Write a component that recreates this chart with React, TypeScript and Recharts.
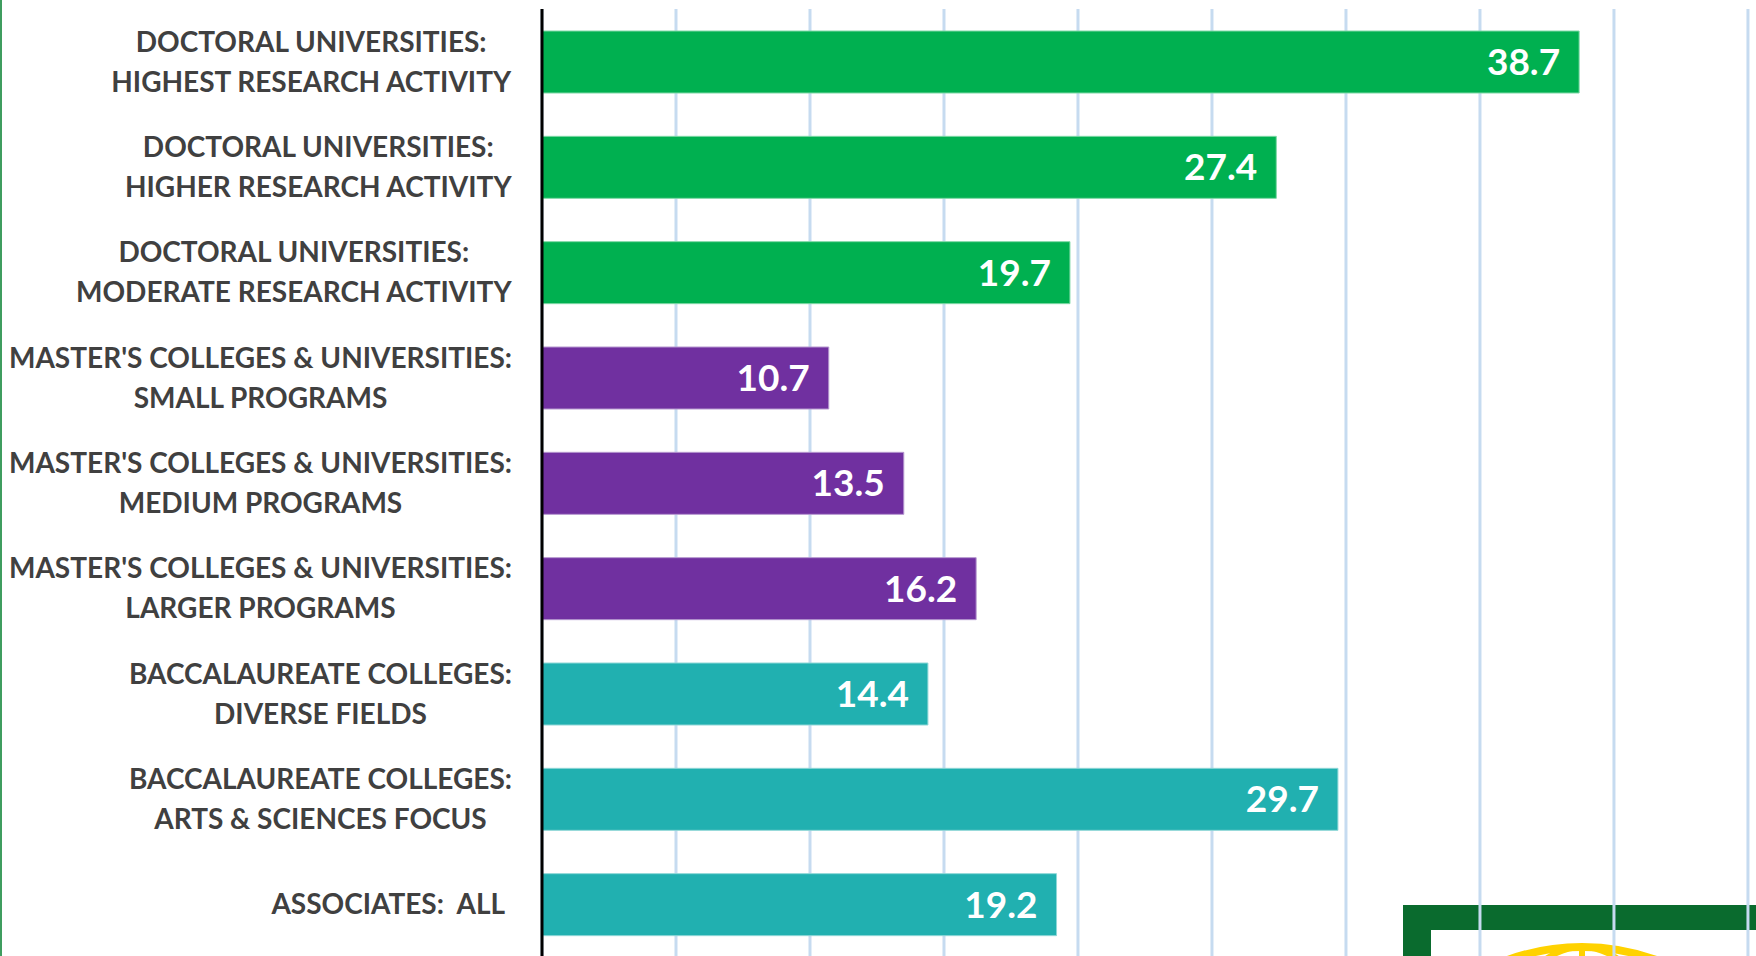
import { BarChart, Bar, XAxis, YAxis, CartesianGrid, Cell, LabelList } from 'recharts'

const categories = [
  'DOCTORAL UNIVERSITIES:\nHIGHEST RESEARCH ACTIVITY',
  'DOCTORAL UNIVERSITIES:\nHIGHER RESEARCH ACTIVITY',
  'DOCTORAL UNIVERSITIES:\nMODERATE RESEARCH ACTIVITY',
  "MASTER'S COLLEGES & UNIVERSITIES:\nSMALL PROGRAMS",
  "MASTER'S COLLEGES & UNIVERSITIES:\nMEDIUM PROGRAMS",
  "MASTER'S COLLEGES & UNIVERSITIES:\nLARGER PROGRAMS",
  'BACCALAUREATE COLLEGES:\nDIVERSE FIELDS',
  'BACCALAUREATE COLLEGES:\nARTS & SCIENCES FOCUS',
  'ASSOCIATES:  ALL ',
]

const values = [38.7, 27.4, 19.7, 10.7, 13.5, 16.2, 14.4, 29.7, 19.2]

// sector group for each row, used for the bar colour
const groups = ['doc', 'doc', 'doc', 'mas', 'mas', 'mas', 'bac', 'bac', 'bac']

const xTicks = [0, 5, 10, 15, 20, 25, 30, 35, 40, 45]
const X_MAX = 45.3

const groupColors: Record<string, string> = {
  doc: '#00b050',
  mas: '#7030a0',
  bac: '#21b0b0',
}
const groupEdges: Record<string, string> = {
  doc: '#7fd8a6',
  mas: '#b597cf',
  bac: '#8fd7d7',
}

const data = categories.map((name, i) => ({ name, value: values[i], group: groups[i] }))

const LABEL_FONT = 'Lato, sans-serif'
const LABEL_SIZE = 28
const LABEL_RIGHT = 512

let ctx: CanvasRenderingContext2D | null = null
function measure(text: string) {
  if (!ctx) ctx = document.createElement('canvas').getContext('2d')
  if (!ctx) return text.length * LABEL_SIZE * 0.6
  ctx.font = `bold ${LABEL_SIZE}px Lato`
  return ctx.measureText(text).width
}

// Excel style: lines centred on each other, block right-aligned
function CategoryTick(props: any) {
  const { y, payload } = props
  const lines: string[] = (payload?.value || '').split('\n')
  const widest = Math.max(...lines.map(measure))
  const cx = LABEL_RIGHT - widest / 2
  const step = 40
  const y0 = y - ((lines.length - 1) * step) / 2
  return (
    <text
      textAnchor="middle"
      fill="#404040"
      fontFamily={LABEL_FONT}
      fontSize={LABEL_SIZE}
      fontWeight="bold"
      style={{ whiteSpace: 'pre' }}
    >
      {lines.map((line, i) => (
        <tspan key={i} x={cx} y={y0 + i * step} dy="0.36em">
          {line}
        </tspan>
      ))}
    </text>
  )
}

function Logo() {
  return (
    <svg width={1756} height={956} style={{ position: 'absolute', left: 0, top: 0 }}>
      <line x1={1} y1={0} x2={1} y2={956} stroke="#3f9d5f" strokeWidth={2} />
      <rect x={1403} y={905} width={400} height={100} fill="#0a6b2e" />
      <rect x={1431} y={930} width={400} height={100} fill="#ffffff" />
      <circle cx={1582} cy={1166} r={219} fill="none" stroke="#ffd200" strokeWidth={8} />
      <ellipse cx={1582} cy={1166} rx={110} ry={219} fill="none" stroke="#ffd200" strokeWidth={6} />
      <line x1={1582} y1={945} x2={1582} y2={956} stroke="#ffd200" strokeWidth={6} />
    </svg>
  )
}

const gridX = ({ xAxis, offset }: any) =>
  xTicks.map((t) =>
    xAxis && typeof xAxis.scale === 'function'
      ? xAxis.scale(t)
      : offset.left + (t / X_MAX) * offset.width
  )

export default function App() {
  return (
    <div
      style={{
        position: 'absolute',
        left: 0,
        top: 0,
        width: 1756,
        height: 956,
        overflow: 'hidden',
        background: '#ffffff',
      }}
    >
      <Logo />
      <div style={{ position: 'absolute', left: 0, top: 0 }}>
        <BarChart
          width={1756}
          height={957}
          data={data}
          layout="vertical"
          margin={{ top: 9, right: 0, bottom: 0, left: 0 }}
        >
          <CartesianGrid
            horizontal={false}
            stroke="#c6dbf0"
            strokeWidth={3}
            verticalCoordinatesGenerator={gridX}
          />
          <XAxis
            type="number"
            domain={[0, X_MAX]}
            ticks={xTicks}
            allowDataOverflow
            tick={false}
            axisLine={false}
            tickLine={false}
            height={0}
          />
          <YAxis
            type="category"
            dataKey="name"
            width={542}
            axisLine={{ stroke: '#000000', strokeWidth: 3 }}
            tickLine={false}
            tick={<CategoryTick />}
            interval={0}
          />
          <Bar dataKey="value" barSize={62} isAnimationActive={false}>
            {data.map((d, i) => (
              <Cell key={i} fill={groupColors[d.group]} stroke={groupEdges[d.group]} strokeWidth={1} />
            ))}
            <LabelList
              dataKey="value"
              position="insideRight"
              offset={19}
              fill="#ffffff"
              fontFamily={LABEL_FONT}
              fontSize={37}
              fontWeight="bold"
              formatter={(v: any) => Number(v).toFixed(1)}
            />
          </Bar>
        </BarChart>
      </div>
    </div>
  )
}
